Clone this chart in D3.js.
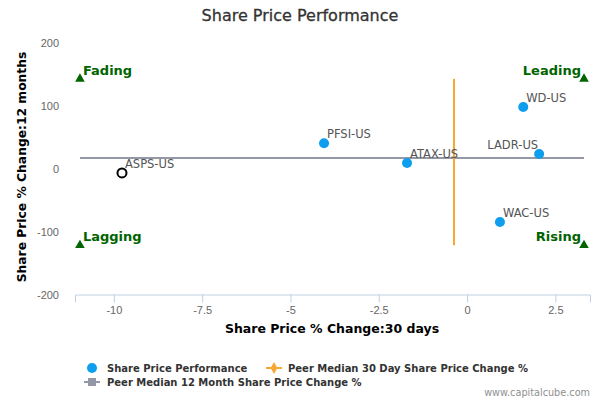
<!DOCTYPE html>
<html><head><meta charset="utf-8">
<script src="https://cdn.jsdelivr.net/npm/d3@7"></script>
<style>body{margin:0;background:#fff}svg{font-family:"DejaVu Sans",sans-serif}</style>
</head><body><svg id="c" width="600" height="400"></svg>
<script>
const tickers = ["ASPS-US","PFSI-US","ATAX-US","WD-US","LADR-US","WAC-US"];
const change30 = [-9.77,-4.05,-1.70,1.59,2.04,0.93];
const change12 = [-6.3,41,9.5,98.4,23.8,-84];
const highlighted = ["ASPS-US"];
const xTicks = [-10,-7.5,-5,-2.5,0,2.5];
const yTicks = [-200,-100,0,100,200];
const peerMedian30 = -0.37;
const peerMedian12 = 17.5;
const quadX = [-10.96, 3.31];
const quadY = [-121, 143];
const quadrants = [
 {name:"Fading", x:-10.96, y:143, anchor:"start"},
 {name:"Lagging", x:-10.96, y:-121, anchor:"start"},
 {name:"Leading", x:3.31, y:143, anchor:"end"},
 {name:"Rising", x:3.31, y:-121, anchor:"end"}
];
const legendItems = ["Share Price Performance","Peer Median 30 Day Share Price Change %","Peer Median 12 Month Share Price Change %"];

const svg = d3.select("#c");
const x = d3.scaleLinear().domain([-11.1,3.48]).range([75,590]);
const y = d3.scaleLinear().domain([-200,200]).range([295,43]);

svg.append("text").attr("x",300).attr("y",21).attr("text-anchor","middle")
 .attr("font-size",16).attr("fill","#333").attr("stroke","#333").attr("stroke-width",0.3).text("Share Price Performance");

// x axis
const xa = svg.append("g").attr("transform","translate(0,294.5)")
 .call(d3.axisBottom(x).tickValues(xTicks).tickSize(8).tickPadding(4).tickFormat(d=>String(d)));
xa.select(".domain").attr("stroke","#C0D0E0");
xa.selectAll(".tick line").attr("stroke","#C0D0E0");
xa.selectAll("text").attr("fill","#666").attr("font-size",11);

const ya = svg.append("g").attr("transform","translate(75,0)")
 .call(d3.axisLeft(y).tickValues(yTicks).tickSize(0).tickPadding(16).tickFormat(d=>String(d)));
ya.select(".domain").remove();
ya.selectAll("text").attr("fill","#666").attr("font-size",11);

svg.append("text").attr("x",332).attr("y",333).attr("text-anchor","middle")
 .attr("font-size",12.5).attr("font-weight","bold").attr("fill","#000").text("Share Price % Change:30 days");
svg.append("text").attr("transform","translate(26,167) rotate(-90)").attr("text-anchor","middle")
 .attr("font-size",12.3).attr("font-weight","bold").attr("fill","#000").text("Share Price % Change:12 months");

// median lines
svg.append("line").attr("x1",x(quadX[0])).attr("x2",x(quadX[1])).attr("y1",y(peerMedian12)).attr("y2",y(peerMedian12))
 .attr("stroke","#9497a6").attr("stroke-width",2);
svg.append("line").attr("x1",x(peerMedian30)).attr("x2",x(peerMedian30)).attr("y1",y(quadY[0])).attr("y2",y(quadY[1]))
 .attr("stroke","#F7A833").attr("stroke-width",2);

// quadrants
const tri = d3.symbol().type(d3.symbolTriangle).size(40);
quadrants.forEach(q=>{
 svg.append("path").attr("d",tri).attr("transform",`translate(${x(q.x)},${y(q.y)})`).attr("fill","#006400");
 const dx = q.anchor==="start"?3:-3;
 svg.append("text").attr("x",x(q.x)+dx).attr("y",y(q.y)-4).attr("text-anchor",q.anchor)
  .attr("font-size",13).attr("font-weight","bold").attr("fill","#006400").text(q.name);
});

// points
tickers.forEach((t,i)=>{
 const px=x(change30[i]), py=y(change12[i]);
 const hl = highlighted.includes(t);
 svg.append("circle").attr("cx",px).attr("cy",py).attr("r",hl?4.5:5)
  .attr("fill",hl?"#fff":"#0D9EEE").attr("stroke",hl?"#000":"none").attr("stroke-width",2);
});
tickers.forEach((t,i)=>{
 const px=x(change30[i]), py=y(change12[i]);
 const anchor = t==="LADR-US"?"end":"start";
 const dx = t==="LADR-US"?-1:3;
 svg.append("text").attr("x",px+dx).attr("y",py-5).attr("text-anchor",anchor)
  .attr("font-size",11.5).attr("fill","#555").text(t);
});

// legend
const lg = svg.append("g").attr("font-size",10).attr("font-weight","bold").attr("fill","#333");
lg.append("circle").attr("cx",92).attr("cy",368).attr("r",5).attr("fill","#0D9EEE");
lg.append("text").attr("x",107).attr("y",372).text(legendItems[0]);
lg.append("line").attr("x1",266).attr("x2",282).attr("y1",368).attr("y2",368).attr("stroke","#F7A833").attr("stroke-width",2);
lg.append("path").attr("d",d3.symbol().type(d3.symbolDiamond).size(40)).attr("transform","translate(274,368)").attr("fill","#F7A833");
lg.append("text").attr("x",288).attr("y",372).text(legendItems[1]);
lg.append("line").attr("x1",84).attr("x2",100).attr("y1",382).attr("y2",382).attr("stroke","#9497a6").attr("stroke-width",2);
lg.append("rect").attr("x",88).attr("y",378).attr("width",8).attr("height",8).attr("fill","#9497a6");
lg.append("text").attr("x",107).attr("y",386).text(legendItems[2]);

svg.append("text").attr("x",590).attr("y",396).attr("text-anchor","end").attr("font-size",9.7)
 .attr("fill","#909090").text("www.capitalcube.com");
</script></body></html>
